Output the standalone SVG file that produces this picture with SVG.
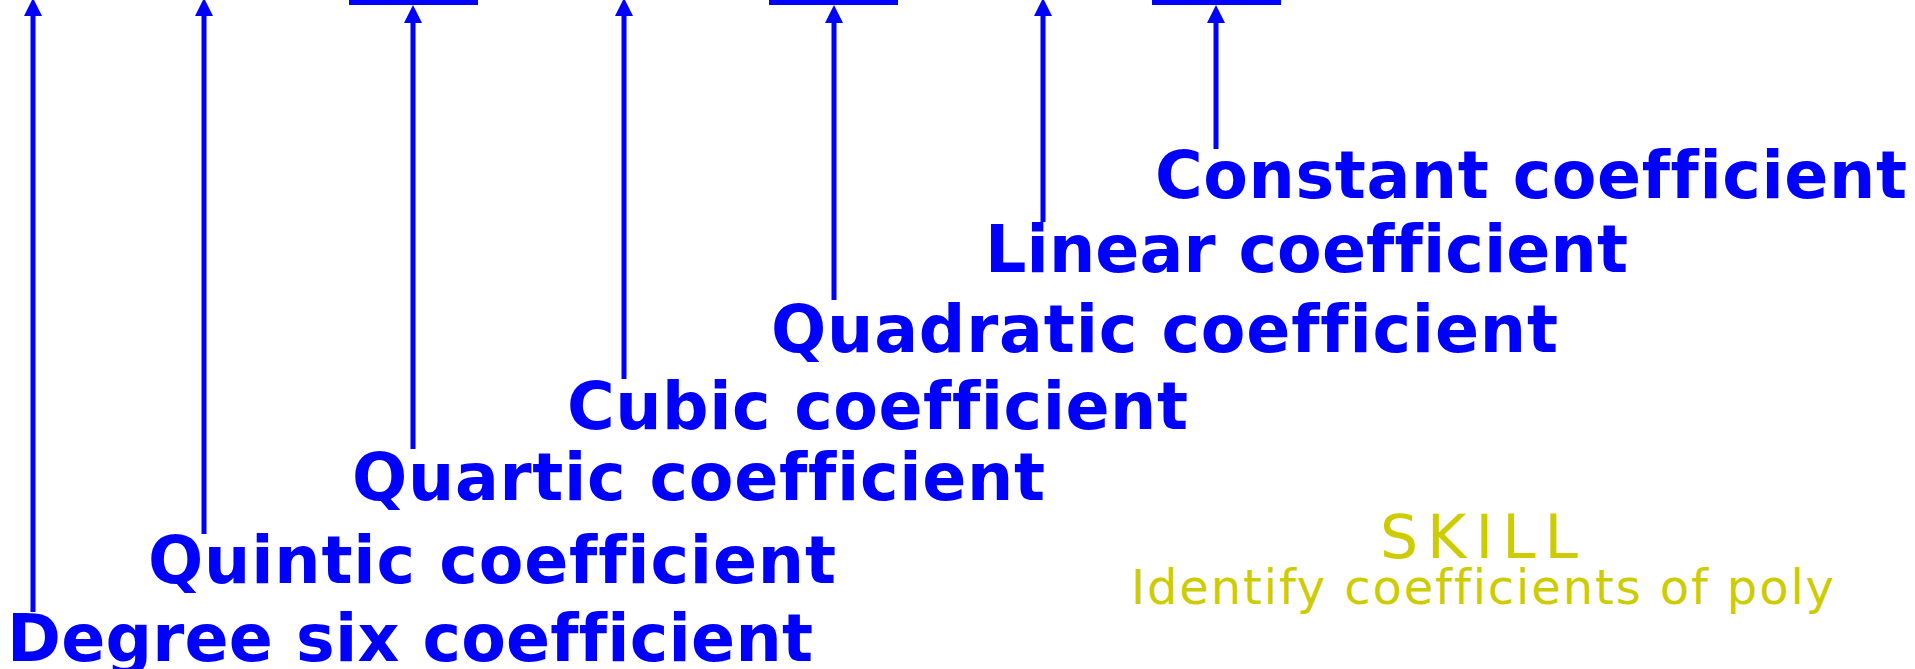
<svg xmlns="http://www.w3.org/2000/svg" width="1915" height="669" viewBox="0 0 1915 669">
  <style>
    text { font-variant-ligatures: none; }
    .lbl { font-family: "DejaVu Sans", "Liberation Sans", sans-serif; font-weight: bold; font-size: 65px; fill: #0000ff; }
    .wire { stroke: #0000ff; stroke-width: 5; fill: none; }
    .bar { fill: #0000ff; }
    .skill { font-family: "DejaVu Sans", "Liberation Sans", sans-serif; fill: #cccc00; }
  </style>
  <defs>
    <marker id="head" markerUnits="userSpaceOnUse" markerWidth="18" markerHeight="18" viewBox="0 0 17 17" refX="0" refY="8.5" orient="auto">
      <path d="M0,0 L17,8.5 L0,17 Z" fill="#0000ff"/>
    </marker>
  </defs>

  <!-- coefficient positions (bars) -->
  <g id="bars">
    <rect class="bar" x="349" y="0" width="129" height="5"/>
    <rect class="bar" x="769" y="0" width="129" height="5"/>
    <rect class="bar" x="1152" y="0" width="129" height="5"/>
  </g>

  <!-- arrows from each label up to its coefficient -->
  <g id="connectors">
    <path class="wire" d="M33,612 L33,16" marker-end="url(#head)"/>
    <path class="wire" d="M204,534 L204,16" marker-end="url(#head)"/>
    <path class="wire" d="M413,449 L413,23" marker-end="url(#head)"/>
    <path class="wire" d="M624,379 L624,16" marker-end="url(#head)"/>
    <path class="wire" d="M834,300 L834,23" marker-end="url(#head)"/>
    <path class="wire" d="M1043,222 L1043,16" marker-end="url(#head)"/>
    <path class="wire" d="M1216,149 L1216,23" marker-end="url(#head)"/>
  </g>

  <g id="constant"><text class="lbl" x="1155" y="198" textLength="752" lengthAdjust="spacing">Constant coefficient</text></g>
  <g id="linear"><text class="lbl" x="985" y="272" textLength="643" lengthAdjust="spacing">Linear coefficient</text></g>
  <g id="quadratic"><text class="lbl" x="771" y="352" textLength="787" lengthAdjust="spacing">Quadratic coefficient</text></g>
  <g id="cubic"><text class="lbl" x="567" y="429" textLength="621" lengthAdjust="spacing">Cubic coefficient</text></g>
  <g id="quartic"><text class="lbl" x="352" y="500" textLength="693" lengthAdjust="spacing">Quartic coefficient</text></g>
  <g id="quintic"><text class="lbl" x="148" y="583" textLength="688" lengthAdjust="spacing">Quintic coefficient</text></g>
  <g id="degree-six"><text class="lbl" x="7" y="661" textLength="806" lengthAdjust="spacing">Degree six coefficient</text></g>

  <g id="skill">
    <text class="skill" x="1380" y="558" font-size="60" textLength="198" lengthAdjust="spacing">SKILL</text>
    <text class="skill" x="1131" y="604" font-size="48" textLength="703" lengthAdjust="spacing">Identify coefficients of poly</text>
  </g>
</svg>
